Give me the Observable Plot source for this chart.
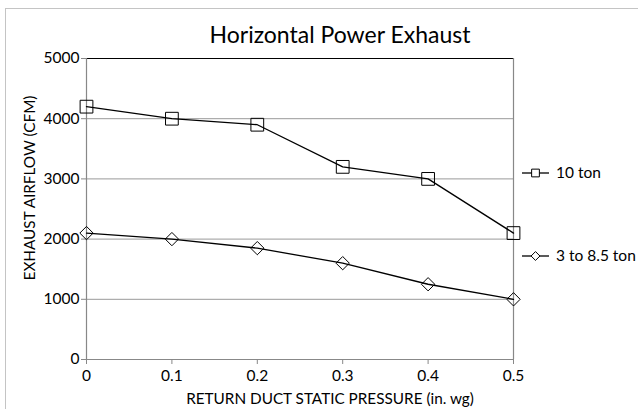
<!DOCTYPE html>
<html><head><meta charset="utf-8">
<script src="https://cdn.jsdelivr.net/npm/d3@7"></script>
<script src="https://cdn.jsdelivr.net/npm/@observablehq/plot@0.6"></script>
<style>
body{margin:0;background:#fff;font-family:Lato,sans-serif;}
#wrap{position:relative;width:638px;height:409px;overflow:hidden;}
#frame{position:absolute;left:5px;top:8px;width:700px;height:500px;border-left:1.5px solid #c4c4c4;border-top:1.5px solid #c4c4c4;}
#chart{position:absolute;left:0;top:0;}
#legend{position:absolute;left:0;top:0;}
</style></head>
<body><div id="wrap"><div id="frame"></div><div id="chart"></div><svg id="legend" width="638" height="409"></svg></div>
<script>
const title = "Horizontal Power Exhaust";
const pressure = [0, 0.1, 0.2, 0.3, 0.4, 0.5];
const ton10 = [4200, 4000, 3900, 3200, 3000, 2100];
const ton3to85 = [2100, 2000, 1850, 1600, 1250, 1000];
const seriesNames = ["10 ton", "3 to 8.5 ton"];
const xTicks = [0, 0.1, 0.2, 0.3, 0.4, 0.5];
const yTicks = [0, 1000, 2000, 3000, 4000, 5000];

const rows = [];
pressure.forEach((p, i) => {
  rows.push({x: p, y: ton10[i], s: seriesNames[0]});
  rows.push({x: p, y: ton3to85[i], s: seriesNames[1]});
});
const sq = rows.filter(d => d.s === seriesNames[0]);
const di = rows.filter(d => d.s === seriesNames[1]);
const fmtX = d => d === 0 ? "0" : String(d);
const fmtY = d => String(d);

const chart = Plot.plot({
  width: 638, height: 409,
  marginLeft: 86, marginRight: 125, marginTop: 58, marginBottom: 50,
  style: {fontFamily: "Lato, sans-serif", fontSize: "15.5px", color: "#000", background: "transparent"},
  x: {domain: [0, 0.5], label: null},
  y: {domain: [0, 5000], label: null},
  marks: [
    Plot.gridY(yTicks.filter(t => t > 0 && t < 5000), {stroke: "#999", strokeOpacity: 1, strokeWidth: 1}),
    Plot.ruleY([5000], {stroke: "#000", strokeWidth: 1}),
    Plot.ruleX([0.5], {stroke: "#888", strokeWidth: 1.2}),
    Plot.ruleX([0], {stroke: "#888", strokeWidth: 1.2}),
    Plot.ruleY([0], {stroke: "#888", strokeWidth: 1.2}),
    Plot.axisX({ticks: xTicks, tickSize: 5, stroke: "#888", tickFormat: fmtX, fontSize: 15.5, tickPadding: 5, label: null}),
    Plot.axisY({ticks: yTicks, tickSize: 5, stroke: "#888", tickFormat: fmtY, fontSize: 15.5, tickPadding: 2, label: null}),
    Plot.line(sq, {x: "x", y: "y", stroke: "#000", strokeWidth: 1.3}),
    Plot.line(di, {x: "x", y: "y", stroke: "#000", strokeWidth: 1.3}),
    Plot.dot(sq, {x: "x", y: "y", symbol: "square", r: 7.2, stroke: "#000", fill: "none", strokeWidth: 1}),
    Plot.dot(di, {x: "x", y: "y", symbol: "diamond2", r: 6, stroke: "#000", fill: "none", strokeWidth: 1}),
    Plot.text(["EXHAUST AIRFLOW (CFM)"], {frameAnchor: "left", textAnchor: "middle", dx: -56, dy: -21, rotate: -90, fontSize: 15.3}),
    Plot.text(["RETURN DUCT STATIC PRESSURE (in. wg)"], {frameAnchor: "bottom", dx: 30, dy: 44, fontSize: 15.3})
  ]
});
document.getElementById("chart").appendChild(chart);

// title + legend overlay
const lg = d3.select("#legend");
lg.append("text").attr("x", 340).attr("y", 43).attr("text-anchor", "middle")
  .attr("font-size", 23).attr("font-family", "Lato, sans-serif").text(title);
const items = [
  {name: seriesNames[0], y: 173, sym: d3.symbolSquare, size: 60},
  {name: seriesNames[1], y: 256, sym: d3.symbolDiamond2, size: 50}
];
items.forEach(it => {
  lg.append("line").attr("x1", 522).attr("x2", 549).attr("y1", it.y).attr("y2", it.y).attr("stroke", "#000").attr("stroke-width", 1.3);
  lg.append("path").attr("d", d3.symbol(it.sym, it.size)()).attr("transform", `translate(535.5,${it.y})`).attr("fill", "#fff").attr("stroke", "#000");
  lg.append("text").attr("x", 556).attr("y", it.y).attr("dy", "0.35em").attr("font-size", 15.5).attr("font-family", "Lato, sans-serif").text(it.name);
});
</script></body></html>
